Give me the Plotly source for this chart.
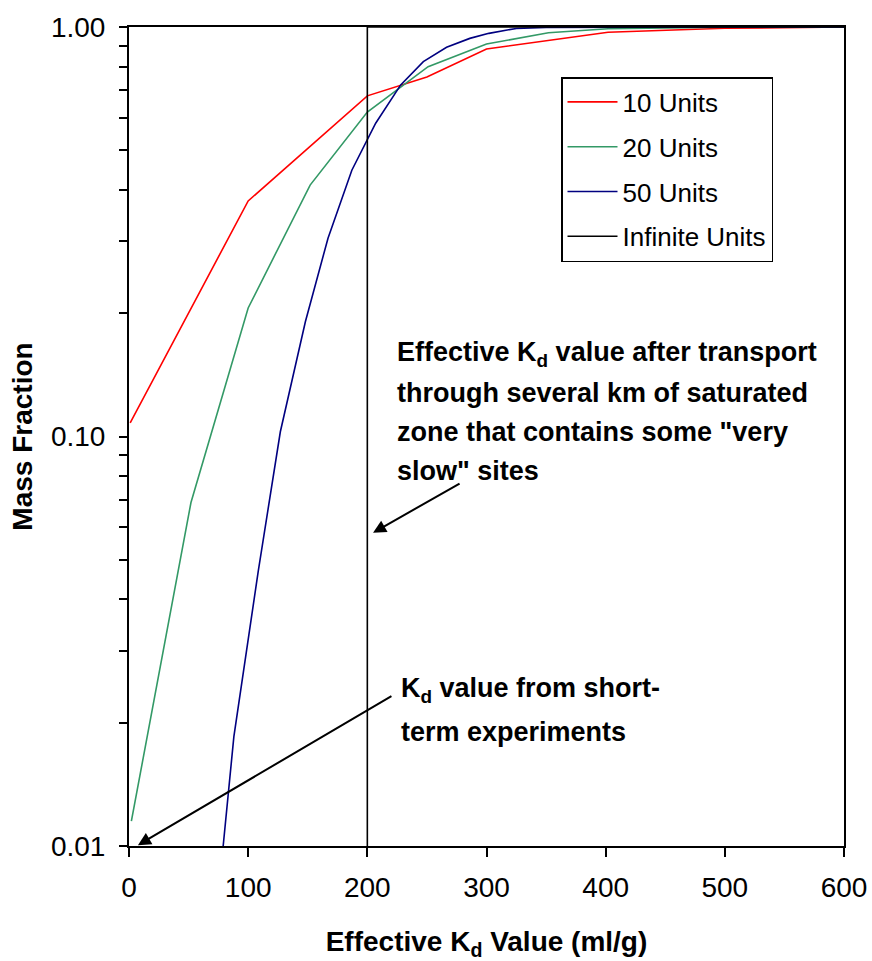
import plotly.graph_objects as go

# ---- data ----
kd_10 = [1, 100, 200, 250, 300, 402, 500, 600]
mf_10 = [0.108, 0.376, 0.679, 0.755, 0.884, 0.971, 0.993, 1.0]

kd_20 = [2, 52, 100, 152, 200, 251, 300, 352, 402, 500, 600]
mf_20 = [0.0115, 0.069, 0.206, 0.411, 0.620, 0.800, 0.909, 0.968, 0.990, 0.999, 1.0]

kd_50 = [68, 88, 108.5, 127, 148, 167, 187, 207, 228, 247, 266.5, 286, 302, 325, 350, 400, 500, 600]
mf_50 = [0.0047, 0.0185, 0.047, 0.1027, 0.1906, 0.305, 0.447, 0.582, 0.722, 0.823, 0.892,
         0.938, 0.965, 0.992, 0.998, 1.0, 1.0, 1.0]

kd_inf = [200, 200, 600]
mf_inf = [0.01, 1.0, 1.0]

series_names = ["10 Units", "20 Units", "50 Units", "Infinite Units"]
series_colors = ["#FF0000", "#339966", "#000080", "#000000"]

x_ticks = [0, 100, 200, 300, 400, 500, 600]
y_ticks = [0.01, 0.1, 1.0]
y_tick_text = ["0.01", "0.10", "1.00"]
y_minor_ticks = [0.02, 0.03, 0.04, 0.05, 0.06, 0.07, 0.08, 0.09,
                 0.2, 0.3, 0.4, 0.5, 0.6, 0.7, 0.8, 0.9]

note_1 = ["Effective K<sub>d</sub> value after transport",
          "through several km of saturated",
          "zone that contains some \"very",
          "slow\" sites"]
note_2 = ["K<sub>d</sub> value from short-",
          "term experiments"]

FONT = "Liberation Sans, Arial, sans-serif"

fig = go.Figure()
for i, (xs, ys) in enumerate([(kd_10, mf_10), (kd_20, mf_20), (kd_50, mf_50), (kd_inf, mf_inf)]):
    fig.add_trace(go.Scatter(
        x=xs, y=ys, mode="lines", name=series_names[i],
        line=dict(color=series_colors[i], width=1.6),
        legendgroup=f"g{i}",
    ))

# plot area in pixels
L, R, T, B = 129, 28, 27, 115
W, H = 872, 961
pw, ph = W - L - R, H - T - B


def px(xp):
    return (xp - L) / pw


def py(yp):
    return 1 - (yp - T) / ph


annotations = []
for k, line in enumerate(note_1):
    annotations.append(dict(
        text=f"<b>{line}</b>", xref="paper", yref="paper",
        x=px(395), y=py(354 + 39 * k), xanchor="left", yanchor="middle",
        showarrow=False, font=dict(size=27, family=FONT, color="black")))
for k, line in enumerate(note_2):
    annotations.append(dict(
        text=f"<b>{line}</b>", xref="paper", yref="paper",
        x=px(399), y=py(690 + 42 * k), xanchor="left", yanchor="middle",
        showarrow=False, font=dict(size=27, family=FONT, color="black")))

# arrows
annotations.append(dict(
    text="", x=204.8, y=-1.235, xref="x", yref="y", showarrow=True,
    ax=88, ay=-50, arrowhead=2, arrowsize=1.3, arrowwidth=2, arrowcolor="black"))
annotations.append(dict(
    text="", x=7.5, y=-1.998, xref="x", yref="y", showarrow=True,
    ax=255, ay=-150, arrowhead=2, arrowsize=1.3, arrowwidth=2, arrowcolor="black"))

fig.update_layout(
    width=W, height=H,
    margin=dict(l=L, r=R, t=T, b=B, autoexpand=False),
    plot_bgcolor="white", paper_bgcolor="white",
    font=dict(family=FONT, color="black"),
    showlegend=True,
    legend=dict(
        x=px(561), y=py(77), xanchor="left", yanchor="top",
        bgcolor="white", bordercolor="black", borderwidth=1.5,
        font=dict(size=26, family=FONT, color="black"),
        traceorder="grouped", tracegroupgap=8, itemwidth=50,
    ),
    annotations=annotations,
    xaxis=dict(
        range=[0, 600], tickvals=x_ticks, ticktext=[str(v) for v in x_ticks],
        ticks="outside", ticklen=9, tickwidth=1.5, tickcolor="black",
        showline=True, linewidth=2, linecolor="black", mirror=True,
        showgrid=False, zeroline=False, automargin=False,
        tickfont=dict(size=28, family=FONT),
        ticklabelstandoff=6,
        title=dict(text="<b>Effective K<sub>d</sub> Value (ml/g)</b>",
                   font=dict(size=28, family=FONT), standoff=32),
    ),
    yaxis=dict(
        type="log", range=[-2, 0], tickvals=y_ticks, ticktext=y_tick_text,
        ticks="outside", ticklen=8, tickwidth=1.5, tickcolor="black",
        minor=dict(tickvals=y_minor_ticks, ticks="outside", ticklen=8,
                   tickwidth=1.5, tickcolor="black", showgrid=False),
        showline=True, linewidth=2, linecolor="black", mirror=True,
        showgrid=False, zeroline=False, automargin=False,
        tickfont=dict(size=28, family=FONT),
        ticklabelstandoff=8,
        title=dict(text="<b>Mass Fraction</b>",
                   font=dict(size=28, family=FONT), standoff=10),
    ),
)

fig.write_html("out.html", config={"displayModeBar": False},
               post_script="document.body.style.margin='0';")
